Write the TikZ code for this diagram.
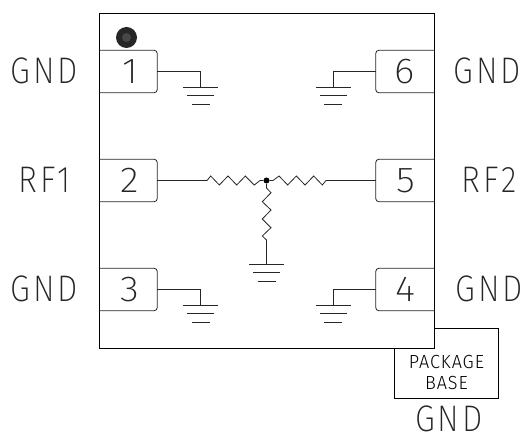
\documentclass[tikz,border=0pt]{standalone}
\usepackage{fontspec}
\setmainfont{Fira Sans Light}
\newfontfamily\labfont[FakeStretch=0.87,LetterSpace=8]{Fira Sans ExtraLight}
\newfontfamily\digfont[FakeStretch=1.08]{Fira Sans ExtraLight}
\newfontfamily\smallfont[FakeStretch=0.95,LetterSpace=5]{Fira Sans Light}
\begin{document}
\begin{tikzpicture}[x=1pt,y=-1pt,
  wire/.style={line width=0.8pt,black!85},
  pinbox/.style={minimum width=58pt,minimum height=42pt,inner sep=0pt,font=\digfont\fontsize{36}{36}\selectfont,text=black!85},
  lab/.style={inner sep=0pt,font=\labfont\fontsize{37}{37}\selectfont,text=black!85},
  small/.style={inner sep=0pt,font=\smallfont\fontsize{19}{21}\selectfont,align=center,text=black}]
\useasboundingbox (0,0) rectangle (524,435);
\newcommand{\gndsym}[1]{%
  \draw[wire] ([xshift=-17.5pt]#1) -- ([xshift=17.5pt]#1);
  \draw[wire] ([xshift=-13.5pt,yshift=-8.5pt]#1) -- ([xshift=13.5pt,yshift=-8.5pt]#1);
  \draw[wire] ([xshift=-9pt,yshift=-17pt]#1) -- ([xshift=9pt,yshift=-17pt]#1);}
\draw[line width=0.8pt,black] (99,348) -- (99,13) -- (434.5,13) -- (434.5,348) -- cycle;
\draw[line width=0.8pt] (434.5,328) -- (498.5,328) -- (498.5,398) -- (394.5,398) -- (394.5,348);
\fill[black!85] (126.5,37.5) circle (10.5pt);
\fill[black!72] (126.5,37.5) circle (4.5pt);
\node[pinbox] (p1) at (128,71.5) {\hspace{4pt}1};
\node[pinbox] (p2) at (128,180.5) {\hspace{4pt}2};
\node[pinbox] (p3) at (128,289.5) {\hspace{4pt}3};
\node[pinbox] (p6) at (405,71.5) {6\hspace{3pt}};
\node[pinbox] (p5) at (405,180.5) {\hspace{1pt}5};
\node[pinbox] (p4) at (405,289.5) {\hspace{1pt}4};
\foreach \n in {p1,p2,p3}
  \draw[wire,rounded corners=3pt] (\n.north west) -- (\n.north east) -- (\n.south east) -- (\n.south west);
\foreach \n in {p4,p5,p6}
  \draw[wire,rounded corners=3pt] (\n.north east) -- (\n.north west) -- (\n.south west) -- (\n.south east);
\coordinate (g1) at (200.5,87);
\coordinate (g6) at (333,87);
\coordinate (g3) at (200.5,305);
\coordinate (g4) at (333,305);
\coordinate (g0) at (266.5,264);
\foreach \g in {g1,g6,g3,g4,g0} {\gndsym{\g}}
\draw[wire] (p1.east) -| (g1);
\draw[wire] (p6.west) -| (g6);
\draw[wire] (p3.east) -| (g3);
\draw[wire] (p4.west) -| (g4);
\node[circle,fill=black,inner sep=0pt,minimum size=6pt] (c) at (266.5,180.5) {};
\draw[wire] (p2.east) -- (207,180.5) -- (210.7,176) -- (219.3,185) -- (228,176) -- (236.7,185) -- (245.3,176) -- (254.3,185) -- (260,180.5) -- (c);
\draw[wire] (c) -- (273,180.5) -- (279,176) -- (287.7,185) -- (296.3,176) -- (305,185) -- (313.7,176) -- (322.3,185) -- (326,180.5) -- (p5.west);
\draw[wire] (c) -- (266.5,188) -- (271,192.7) -- (262.3,201.7) -- (271,210) -- (262.3,219) -- (271,227.7) -- (262.3,236) -- (266.5,240) -- (g0);
\node[lab] at (44.5,71) {GND};
\node[lab] at (487.5,71) {GND};
\node[lab] at (44.5,180) {RF1};
\node[lab] at (489,180) {RF2};
\node[lab] at (44.5,289) {GND};
\node[lab] at (489.5,289) {GND};
\node[lab] at (449,419) {GND};
\node[small] at (446.5,372.5) {PACKAGE\\BASE};
\end{tikzpicture}
\end{document}
